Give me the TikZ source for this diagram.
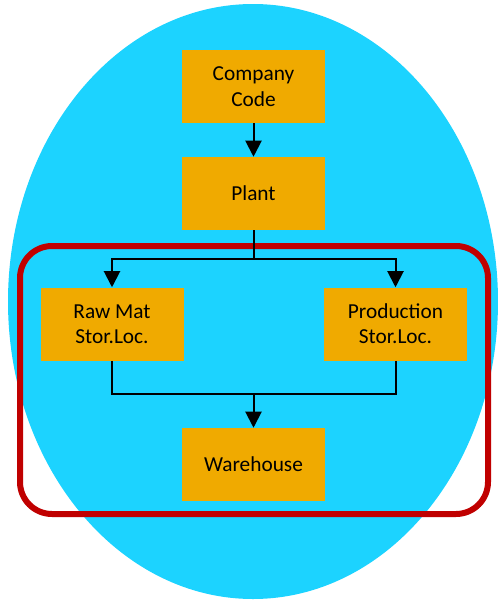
\documentclass[tikz,border=0pt]{standalone}
\usepackage{fontspec}
\setmainfont{Carlito}
\usetikzlibrary{arrows.meta}
\definecolor{skyfill}{HTML}{1CD3FF}
\definecolor{boxfill}{HTML}{F0AA00}
\definecolor{ringred}{HTML}{C00000}
\tikzset{
  unitbox/.style={fill=boxfill, draw=none, inner sep=0pt, minimum width=107.25pt, minimum height=54.75pt,
    align=center, font=\fontsize{16pt}{19pt}\selectfont, text=black},
  link/.style={draw=black, line width=1.5pt},
  linkarrow/.style={link, -{Triangle[width=12pt,length=12pt]}},
}
\begin{document}
\begin{tikzpicture}[x=0.75pt, y=-0.75pt]
\useasboundingbox (0,0) rectangle (498,600);
\fill[skyfill] (253,301.5) ellipse [x radius=245, y radius=297.5];
\node[unitbox] (cc) at (253.5,86.5) {Company\\Code};
\node[unitbox] (plant) at (253.5,193.5) {Plant};
\node[unitbox] (raw) at (112,324) {Raw Mat\\Stor.Loc.};
\node[unitbox] (prod) at (395.5,324) {Production\\Stor.Loc.};
\node[unitbox] (wh) at (253.5,464.5) {Warehouse};
\draw[ringred, line width=4.5pt, rounded corners=24pt] (20,246) rectangle (488,514);
\coordinate (split) at (253.5,259);
\coordinate (merge) at (253.5,394);
\draw[linkarrow] (cc) -- (plant);
\draw[link] (plant.south) -- (split);
\draw[linkarrow] (split) -| (raw.north);
\draw[linkarrow] (split) -| (prod.north);
\draw[link] (raw.south) |- (merge);
\draw[link] (prod.south) |- (merge);
\draw[linkarrow] (merge) -- (wh.north);
\end{tikzpicture}
\end{document}
